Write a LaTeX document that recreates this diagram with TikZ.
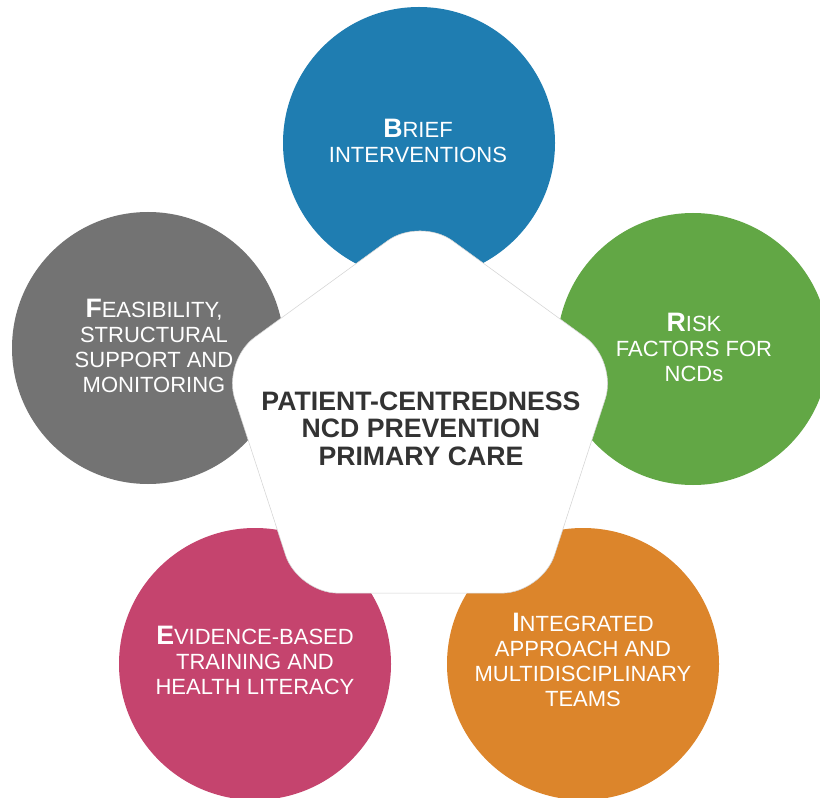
\documentclass[tikz,border=0pt]{standalone}
\usepackage{fontspec}
\setmainfont{Liberation Sans}
\definecolor{cblue}{HTML}{1F7DB1}
\definecolor{cgray}{HTML}{737373}
\definecolor{cgreen}{HTML}{62A745}
\definecolor{corange}{HTML}{DC852B}
\definecolor{cpink}{HTML}{C5446E}
\definecolor{ctextdark}{HTML}{333333}
\definecolor{cedge}{HTML}{D4D4D4}
\newcommand\initialcap[1]{{\fontsize{20}{20}\selectfont\bfseries #1}}
\begin{document}
\begin{tikzpicture}[x=0.75pt,y=-0.75pt,
  bubble/.style={circle,minimum size=204pt,inner sep=0pt,draw=none},
  bubtext/.style={align=center,text=white,inner sep=0pt,
    font=\fontsize{16.5}{18.75}\selectfont},
  pent/.style={fill=white,draw=cedge,line width=0.4pt,rounded corners=30pt},
  ctext/.style={align=center,text=ctextdark,inner sep=0pt,
    font=\fontsize{20}{20.6}\selectfont\bfseries}]
\clip (0,0) rectangle (820,798);
\fill[white] (0,0) rectangle (820,798);
% circles
\node[bubble,fill=cblue]   (cb) at (419,143) {};
\node[bubble,fill=cgray]   (cg) at (148,348) {};
\node[bubble,fill=cgreen]  (cr) at (693,349) {};
\node[bubble,fill=cpink]   (ce) at (255,664) {};
\node[bubble,fill=corange] (ci) at (583,664) {};
% central pentagon
\coordinate (pb)  at (420,593.1);
\coordinate (pbl) at (297.9,593.1);
\coordinate (pl)  at (222.4,360.8);
\coordinate (pt)  at (420,217.2);
\coordinate (pr)  at (617.6,360.8);
\coordinate (pbr) at (542.1,593.1);
\draw[pent] (pb) -- (pbl) -- (pl) -- (pt) -- (pr) -- (pbr) -- cycle;
% texts
\node[bubtext] (tb) at (418,141) {\initialcap{B}RIEF\\INTERVENTIONS};
\node[bubtext] (tg) at (154,346) {\initialcap{F}EASIBILITY,\\STRUCTURAL\\SUPPORT AND\\MONITORING};
\node[bubtext] (tr) at (694,347) {\initialcap{R}ISK\\FACTORS FOR\\NCDs};
\node[bubtext] (te) at (255,660) {\initialcap{E}VIDENCE-BASED\\TRAINING AND\\HEALTH LITERACY};
\node[bubtext] (ti) at (583,660) {\initialcap{I}NTEGRATED\\APPROACH AND\\MULTIDISCIPLINARY\\TEAMS};
\node[ctext] (tc) at (421,428.5) {PATIENT-CENTREDNESS\\NCD PREVENTION\\PRIMARY CARE};
\end{tikzpicture}
\end{document}
